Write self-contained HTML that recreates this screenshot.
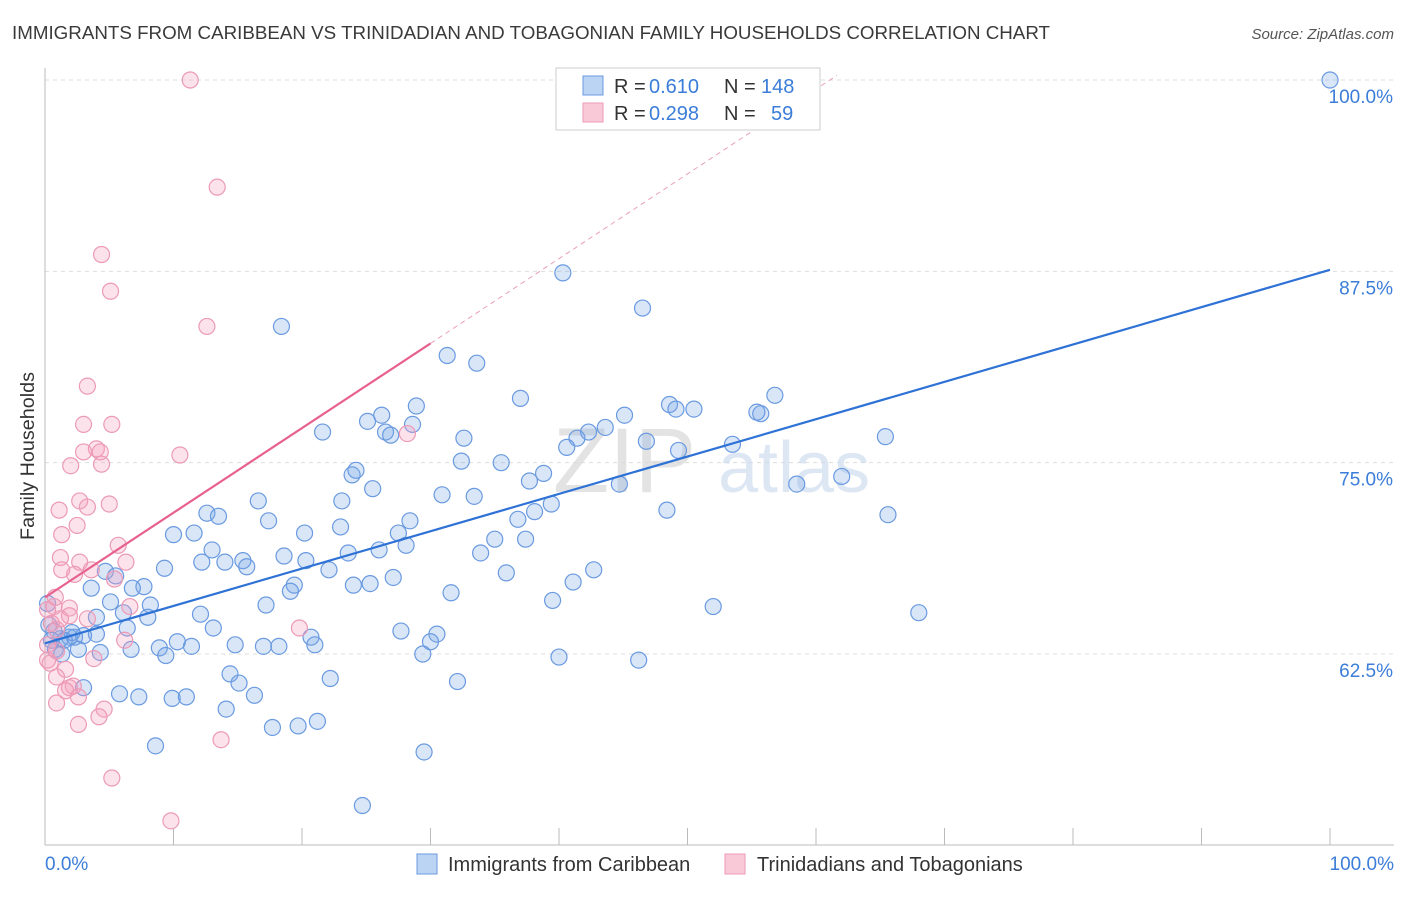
<!DOCTYPE html>
<html><head><meta charset="utf-8"><style>
body{margin:0;background:#fff;font-family:"Liberation Sans",sans-serif;}
svg text{font-family:"Liberation Sans",sans-serif;}
</style></head><body>
<svg id="chart" width="1406" height="892" xmlns="http://www.w3.org/2000/svg">
<text x="12" y="39" font-size="18.5" fill="#3a3a3a" textLength="1038" lengthAdjust="spacingAndGlyphs">IMMIGRANTS FROM CARIBBEAN VS TRINIDADIAN AND TOBAGONIAN FAMILY HOUSEHOLDS CORRELATION CHART</text>
<text x="1394" y="39" font-size="15" fill="#555" font-style="italic" text-anchor="end">Source: ZipAtlas.com</text>
<g id="grid"></g>
<g><text x="553" y="492" font-size="92" fill="#d8d8d8" font-family="Liberation Serif" opacity="0.7">ZIP</text><text x="718" y="492" font-size="72" fill="#c8d8ee" opacity="0.6">atlas</text></g>
<g id="marks"></g>
<text transform="translate(34,456) rotate(-90)" font-size="19" fill="#333" text-anchor="middle" textLength="168" lengthAdjust="spacingAndGlyphs">Family Households</text>
<text x="45" y="870" font-size="19" fill="#3b7dd8">0.0%</text>
<text x="1394" y="870" font-size="19" fill="#3b7dd8" text-anchor="end">100.0%</text>
<g>
<rect x="556" y="68" width="264" height="62" fill="#fff" stroke="#ccc"/>
<rect x="583" y="76" width="20" height="19" fill="#bcd4f3" stroke="#6a9ae0"/>
<rect x="583" y="103" width="20" height="19" fill="#f9c9d8" stroke="#ec9ab6"/>
<text x="614" y="93" font-size="20" fill="#333">R =</text>
<text x="649" y="93" font-size="20" fill="#3b7dd8">0.610</text>
<text x="724" y="93" font-size="20" fill="#333">N =</text>
<text x="761" y="93" font-size="20" fill="#3b7dd8">148</text>
<text x="614" y="120" font-size="20" fill="#333">R =</text>
<text x="649" y="120" font-size="20" fill="#3b7dd8">0.298</text>
<text x="724" y="120" font-size="20" fill="#333">N =</text>
<text x="771" y="120" font-size="20" fill="#3b7dd8">59</text>
</g>
<g>
<rect x="417" y="854" width="20" height="20" fill="#bcd4f3" stroke="#6a9ae0"/>
<text x="448" y="871" font-size="20" fill="#333">Immigrants from Caribbean</text>
<rect x="725" y="854" width="20" height="20" fill="#f9c9d8" stroke="#ec9ab6"/>
<text x="757" y="871" font-size="20" fill="#333">Trinidadians and Tobagonians</text>
</g>
</svg>
<script>
const yTicks=[100,87.5,75,62.5];
const yTickLabels=["100.0%","87.5%","75.0%","62.5%"];
const xTicks=[0,10,20,30,40,50,60,70,80,90,100];
const blueX=[100,40.3,46.5,18.4,31.3,33.6,37.0,56.8,28.9,48.6,50.5,49.1,45.1,55.7,55.4,26.2,25.1,43.6,42.3,41.4,40.6,46.8,65.4,21.6,26.5,26.9,28.6,32.6,53.5,49.3,32.4,35.5,23.9,24.2,38.8,37.7,25.5,30.9,33.4,58.5,62.0,44.7,16.6,23.1,39.4,38.1,36.8,28.4,48.4,65.6,12.6,13.5,17.4,10.0,11.6,20.2,23.0,27.5,28.1,35.0,37.4,33.9,23.6,26.0,13.0,15.4,18.6,20.3,12.2,14.0,15.7,22.1,9.3,4.7,5.5,7.7,6.8,3.6,19.4,19.1,27.1,24.0,25.3,35.9,42.7,41.1,31.6,8.2,5.1,6.1,8.0,12.1,17.2,39.5,52.0,68.0,4.0,6.4,13.1,0.7,4.0,3.0,1.9,1.2,2.3,0.5,0.8,1.3,2.6,4.3,6.7,8.9,9.4,10.3,11.4,14.8,17.0,18.2,20.7,21.0,27.7,30.5,30.0,29.4,40.0,46.2,14.4,15.1,16.3,3.0,5.8,7.3,9.9,11.0,14.1,17.7,19.7,21.2,22.2,32.1,8.6,29.5,24.7,0.2,0.3,1.5,2.1];
const blueY=[100,87.4,85.1,83.9,82.0,81.5,79.2,79.4,78.7,78.8,78.5,78.5,78.1,78.2,78.3,78.1,77.7,77.3,77.0,76.6,76.0,76.4,76.7,77.0,77.0,76.8,77.5,76.6,76.2,75.8,75.1,75.0,74.2,74.5,74.3,73.8,73.3,72.9,72.8,73.6,74.1,73.6,72.5,72.5,72.3,71.8,71.3,71.2,71.9,71.6,71.7,71.5,71.2,70.3,70.4,70.4,70.8,70.4,69.6,70.0,70.0,69.1,69.1,69.3,69.3,68.6,68.9,68.6,68.5,68.5,68.2,68.0,68.1,67.9,67.6,66.9,66.8,66.8,67.0,66.6,67.5,67.0,67.1,67.8,68.0,67.2,66.5,65.7,65.9,65.2,64.9,65.1,65.7,66.0,65.6,65.2,64.9,64.2,64.2,64.0,63.8,63.7,63.6,63.5,63.6,63.4,62.8,62.5,62.8,62.6,62.8,62.9,62.4,63.3,63.0,63.1,63.0,63.0,63.6,63.1,64.0,63.8,63.3,62.5,62.3,62.1,61.2,60.6,59.8,60.3,59.9,59.7,59.6,59.7,58.9,57.7,57.8,58.1,60.9,60.7,56.5,56.1,52.6,65.8,64.4,63.4,63.9];
const pinkX=[11.3,13.4,4.4,5.1,12.6,3.3,3.0,5.2,4.0,4.3,3.0,10.5,2.0,4.4,28.2,2.7,5.0,1.1,3.3,2.5,1.3,5.7,1.2,2.7,6.3,1.3,2.3,3.6,5.4,0.8,0.7,1.9,1.9,3.3,6.6,0.5,0.9,19.8,6.2,0.2,0.9,3.8,0.2,0.4,1.6,0.9,2.2,1.9,1.6,2.6,4.6,0.9,4.2,2.6,13.7,5.2,9.8,0.2,1.2];
const pinkY=[100,93.0,88.6,86.2,83.9,80.0,77.5,77.5,75.9,75.7,75.7,75.5,74.8,74.9,76.9,72.5,72.3,71.9,72.1,70.9,70.3,69.6,68.8,68.5,68.5,68.0,67.7,68.0,67.4,66.2,65.6,65.5,65.0,64.8,65.6,64.5,64.1,64.2,63.4,63.1,62.7,62.2,62.1,61.9,61.5,61.0,60.4,60.3,60.1,59.7,58.9,59.3,58.4,57.9,56.9,54.4,51.6,65.4,64.8];
const blueFit=[63.2,0.244];   // intercept, slope
const pinkFit=[66.2,0.553];

const X0=45,X1=1330,Yt=80,Yb=845;
const sx=v=>X0+(X1-X0)*v/100;
const sy=v=>Yt+(100-v)*(654-80)/37.5;
const NS="http://www.w3.org/2000/svg";
function mk(tag,attrs,parent){const e=document.createElementNS(NS,tag);for(const k in attrs)e.setAttribute(k,attrs[k]);parent.appendChild(e);return e;}
const grid=document.getElementById('grid');
const marks=document.getElementById('marks');
yTicks.forEach((t,i)=>{
  const l=mk('line',{x1:X0,x2:1394,y1:sy(t),y2:sy(t),stroke:'#ddd','stroke-dasharray':'4,4'},grid);
  
  
  const tx=mk('text',{x:1393,y:sy(t)+23,'font-size':19,fill:'#3b7dd8','text-anchor':'end'},grid);
  tx.textContent=yTickLabels[i];
  
  
});
const ax=mk('line',{x1:X0,x2:X0,y1:68,y2:Yb,stroke:'#bbb'},grid);


const bx=mk('line',{x1:X0,x2:1394,y1:Yb,y2:Yb,stroke:'#bbb'},grid);


xTicks.forEach(t=>{
  const l=mk('line',{x1:sx(t),x2:sx(t),y1:828,y2:Yb,stroke:'#bbb'},grid);
  
  
});
function dots(xs,ys,fill,stroke,name){
  xs.forEach((x,i)=>{
    const c=mk('circle',{cx:sx(x),cy:sy(ys[i]),r:8,fill:fill,stroke:stroke,'stroke-width':1.2},marks);
    
    
  });
}
dots(blueX,blueY,'rgba(120,165,230,0.28)','#6a9ae0','caribbean-point');
dots(pinkX,pinkY,'rgba(244,160,190,0.3)','#ec9ab6','trinidadian-point');
const bl=mk('line',{x1:sx(0),y1:sy(blueFit[0]),x2:sx(100),y2:sy(blueFit[0]+blueFit[1]*100),stroke:'#2f72d6','stroke-width':2.2},marks);


const xe=30, xTop=(100-pinkFit[0])/pinkFit[1];
const pl=mk('line',{x1:sx(0),y1:sy(pinkFit[0]),x2:sx(xe),y2:sy(pinkFit[0]+pinkFit[1]*xe),stroke:'#e8608e','stroke-width':2.2},marks);


const pd=mk('line',{x1:sx(xe),y1:sy(pinkFit[0]+pinkFit[1]*xe),x2:sx(xTop+0.5),y2:sy(100.3),stroke:'#eaa0b8','stroke-width':1,'stroke-dasharray':'5,4'},marks);


</script>
</body></html>
